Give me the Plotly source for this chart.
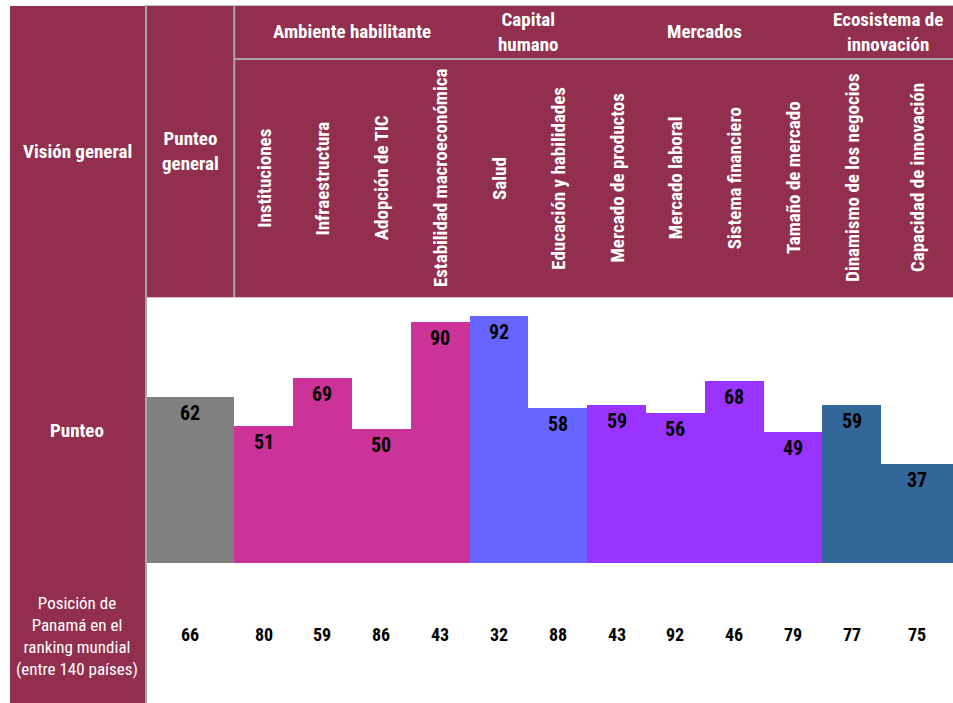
import plotly.graph_objects as go

# Índice de Competitividad Global - Panamá
overall_label = "Punteo<br>general"
overall_score = 62
overall_rank = 66

pillars = [
    "Instituciones", "Infraestructura", "Adopción de TIC",
    "Estabilidad macroeconómica", "Salud", "Educación y habilidades",
    "Mercado de productos", "Mercado laboral", "Sistema financiero",
    "Tamaño de mercado", "Dinamismo de los negocios",
    "Capacidad de innovación",
]
scores = [51, 69, 50, 90, 92, 58, 59, 56, 68, 49, 59, 37]
ranks = [80, 59, 86, 43, 32, 88, 43, 92, 46, 79, 77, 75]

group_names = ["Ambiente habilitante", "Capital<br>humano", "Mercados",
               "Ecosistema de<br>innovación"]
group_sizes = [4, 2, 4, 2]

row_titles = ["Visión general", "Punteo",
              "Posición de<br>Panamá en el<br>ranking mundial<br>(entre 140 países)"]

# ---- styling ----
W, H = 953, 703
FONT = "Roboto Condensed, Roboto, sans-serif"
MAROON = "#922F4F"
GRID = "#A6A6A6"
OVERALL_COLOR = "#808080"
GROUP_COLORS = ["#CC3399", "#6666FF", "#9933FF", "#336699"]

# column widths in axis units (overall column is wider, last one slightly wider)
col_widths = [1.5] + [1.0] * 11 + [1.22]
edges = [0.0]
for w in col_widths:
    edges.append(edges[-1] + w)
centers = [(a + b) / 2 for a, b in zip(edges[:-1], edges[1:])]
x_total = edges[-1]

bar_colors = [OVERALL_COLOR]
for c, n in zip(GROUP_COLORS, group_sizes):
    bar_colors += [c] * n

values = [overall_score] + scores
rank_values = [overall_rank] + ranks


def px(x):
    return x / W


def py(y):
    return 1 - y / H


fig = go.Figure(
    go.Bar(
        x=centers,
        y=values,
        width=col_widths,
        marker=dict(color=bar_colors, line=dict(width=0)),
        hoverinfo="skip",
    )
)

shapes = []
# left title column
shapes.append(dict(type="rect", xref="paper", yref="paper", x0=px(10), x1=px(146),
                   y0=py(703), y1=py(6), fillcolor=MAROON, line=dict(width=0), layer="below"))
# header band
shapes.append(dict(type="rect", xref="paper", yref="paper", x0=px(146), x1=1,
                   y0=py(297), y1=py(6), fillcolor=MAROON, line=dict(width=0), layer="below"))
# separators
shapes.append(dict(type="line", xref="paper", yref="paper", x0=px(146), x1=1,
                   y0=py(5.5), y1=py(5.5), line=dict(color="#C8C8C8", width=1)))
shapes.append(dict(type="line", xref="paper", yref="paper", x0=px(146), x1=1,
                   y0=py(297.5), y1=py(297.5), line=dict(color="#D9C0C8", width=1)))
shapes.append(dict(type="line", xref="paper", yref="paper", x0=px(146), x1=px(146),
                   y0=py(5), y1=0, line=dict(color=GRID, width=2)))
shapes.append(dict(type="line", xref="x", yref="paper", x0=edges[1], x1=edges[1],
                   y0=py(5), y1=py(297), line=dict(color=GRID, width=2)))
shapes.append(dict(type="line", xref="x", yref="paper", x0=edges[1], x1=x_total,
                   y0=py(59), y1=py(59), line=dict(color=GRID, width=2)))

ann = []
bold = dict(family=FONT, size=19, color="white")
center = dict(xanchor="center", yanchor="middle", showarrow=False)

# row titles
ann.append(dict(text="<b>" + row_titles[0] + "</b>", xref="paper", yref="paper",
                x=px(77), y=py(151), font=bold, **center))
ann.append(dict(text="<b>" + row_titles[1] + "</b>", xref="paper", yref="paper",
                x=px(77), y=py(430), font=bold, **center))
ann.append(dict(text=row_titles[2], xref="paper", yref="paper",
                x=px(77), y=py(636), font=dict(family=FONT, size=17, color="white"),
                **center))

# overall column header
ann.append(dict(text="<b>" + overall_label + "</b>", xref="x", yref="paper",
                x=centers[0], y=py(151), font=bold, **center))

# group headers
start = 1
for name, n in zip(group_names, group_sizes):
    gx = (edges[start] + edges[start + n]) / 2
    ann.append(dict(text="<b>" + name + "</b>", xref="x", yref="paper",
                    x=gx, y=py(32), font=bold, **center))
    start += n

# rotated pillar names
for i, name in enumerate(pillars):
    ann.append(dict(text="<b>" + name + "</b>", xref="x", yref="paper",
                    x=centers[i + 1], y=py(178), textangle=-90, font=bold, **center))

# score labels inside the bars
for xc, v in zip(centers, values):
    ann.append(dict(text="<b>%d</b>" % v, xref="x", yref="y", x=xc, y=v,
                    yshift=-16, font=dict(family=FONT, size=20, color="black"), **center))

# world ranking positions
for xc, r in zip(centers, rank_values):
    ann.append(dict(text="<b>%d</b>" % r, xref="x", yref="paper", x=xc, y=py(634),
                    font=dict(family=FONT, size=18, color="black"), **center))

fig.update_layout(
    width=W, height=H,
    margin=dict(l=0, r=0, t=0, b=0),
    paper_bgcolor="white", plot_bgcolor="white",
    showlegend=False, bargap=0,
    xaxis=dict(domain=[px(146), 1], range=[0, x_total], visible=False, fixedrange=True),
    yaxis=dict(domain=[py(563), py(295)], range=[0, 100], visible=False, fixedrange=True),
    shapes=shapes, annotations=ann,
)

fig.write_html("out.html")
